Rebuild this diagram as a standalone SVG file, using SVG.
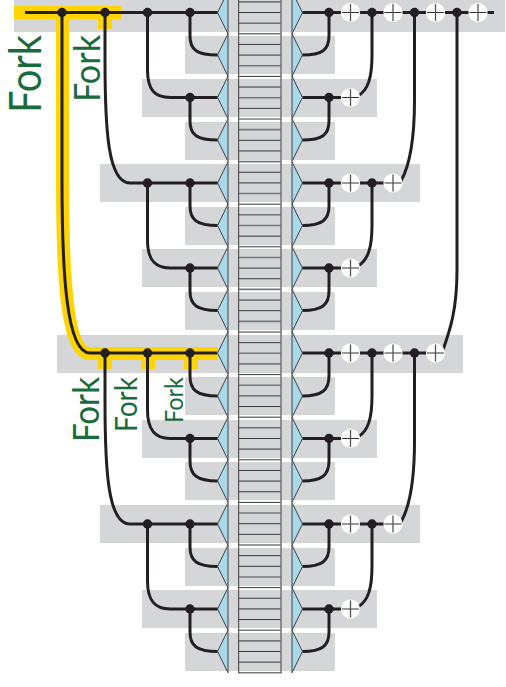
<svg xmlns="http://www.w3.org/2000/svg" width="506" height="687" viewBox="0 0 506 687">
<style>
.b{fill:#d5d6d8}
.y{fill:none;stroke:#ffd400;stroke-width:13}
.w{fill:none;stroke:#231f20;stroke-width:3}
.d{fill:#231f20}
.t{fill:#a9d8e8;stroke:#3f444a;stroke-width:1}
.r{stroke:#3a3a3a;stroke-width:1;fill:none}
.g{stroke:#77787b;stroke-width:1.6;fill:none}
.p{fill:#fff}
.x{stroke:#333;stroke-width:1;fill:none}
.f{font-family:"Lato","Open Sans",sans-serif;fill:#1a6b3c}
</style>
<defs>
<circle id="dot" class="d" r="4.7"/>
<g id="plus"><circle class="p" r="9.6"/><path class="x" d="M-8.500 0H8.500"/><path d="M0-8.500V8.500" fill="none" stroke="#555" stroke-width="1.300"/></g>
<polygon id="tl" class="t" points="228,-21.3 217.5,0 228,21.3"/>
<polygon id="tr" class="t" points="292,-21.3 302.5,0 292,21.3"/>
</defs>
<g id="bands">
<rect class="b" x="14" y="0" width="491" height="32"/>
<rect class="b" x="185" y="36" width="150" height="38"/>
<rect class="b" x="142" y="79" width="235" height="38"/>
<rect class="b" x="185" y="122" width="150" height="38"/>
<rect class="b" x="100" y="164" width="320" height="38"/>
<rect class="b" x="185" y="207" width="150" height="38"/>
<rect class="b" x="142" y="249" width="235" height="38"/>
<rect class="b" x="185" y="292" width="150" height="38"/>
<rect class="b" x="57" y="335" width="406" height="38"/>
<rect class="b" x="185" y="377" width="150" height="38"/>
<rect class="b" x="142" y="420" width="235" height="38"/>
<rect class="b" x="185" y="462" width="150" height="38"/>
<rect class="b" x="100" y="505" width="320" height="38"/>
<rect class="b" x="185" y="548" width="150" height="38"/>
<rect class="b" x="142" y="590" width="235" height="38"/>
<rect class="b" x="185" y="633" width="150" height="38"/>
</g>
<g id="ladder">
<path class="r" d="M239 12.500H281M239 23.150H281M239 44.450H281M239 55.100H281M239 76.400H281M239 87.050H281M239 108.350H281M239 119H281M239 140.300H281M239 150.950H281M239 172.250H281M239 182.900H281M239 204.200H281M239 214.850H281M239 236.150H281M239 246.800H281M239 268.100H281M239 278.750H281M239 300.050H281M239 310.700H281M239 332H281M239 342.650H281M239 363.950H281M239 374.600H281M239 395.900H281M239 406.550H281M239 427.850H281M239 438.500H281M239 459.800H281M239 470.450H281M239 491.750H281M239 502.400H281M239 523.700H281M239 534.350H281M239 555.650H281M239 566.300H281M239 587.600H281M239 598.250H281M239 619.550H281M239 630.200H281M239 651.500H281M239 662.150H281"/>
<path class="g" d="M239 1.850H281M239 33.800H281M239 65.750H281M239 97.700H281M239 129.650H281M239 161.600H281M239 193.550H281M239 225.500H281M239 257.450H281M239 289.400H281M239 321.350H281M239 353.300H281M239 385.250H281M239 417.200H281M239 449.150H281M239 481.100H281M239 513.050H281M239 545H281M239 576.950H281M239 608.900H281M239 640.850H281M238.200 672.800H281.800"/>
<path class="r" d="M238.700 0V673"/>
<path class="g" d="M281 0V673"/>
</g>
<g id="row-shapes">
<use href="#tl" y="12.5"/><use href="#tl" y="55"/><use href="#tl" y="97.5"/><use href="#tl" y="140"/><use href="#tl" y="183"/><use href="#tl" y="225.5"/><use href="#tl" y="268"/><use href="#tl" y="310.5"/><use href="#tl" y="353"/><use href="#tl" y="396"/><use href="#tl" y="438.5"/><use href="#tl" y="481"/><use href="#tl" y="524"/><use href="#tl" y="566.5"/><use href="#tl" y="609"/><use href="#tl" y="651.5"/>
<use href="#tr" y="12.5"/><use href="#tr" y="55"/><use href="#tr" y="97.5"/><use href="#tr" y="140"/><use href="#tr" y="183"/><use href="#tr" y="225.5"/><use href="#tr" y="268"/><use href="#tr" y="310.5"/><use href="#tr" y="353"/><use href="#tr" y="396"/><use href="#tr" y="438.5"/><use href="#tr" y="481"/><use href="#tr" y="524"/><use href="#tr" y="566.5"/><use href="#tr" y="609"/><use href="#tr" y="651.5"/>
</g>
<g id="highlight">
<path class="y" d="M14 12.500H121M62.500 12.500V180C62.500 270 66 353.500 90 353.500H218"/>
<path d="M98 12H112V29H98ZM98 353H112V369H98ZM141 353H155V369H141ZM184 353H198V369H184Z" fill="#ffd400"/>
</g>
<g id="connectors">
<path class="w" d="M25 12.500H217.500M302.500 12.500H494"/>
<path class="w" d="M62 12.500V180C62 270 66 353 90 353H217.500"/>
<path class="w" d="M105 12.500V60C105 130 108 183 130 183H217.500"/>
<path class="w" d="M147.500 12.500V70C147.500 90 155 97.500 170 97.500H217.500"/>
<path class="w" d="M190 12.500V36C190 50 197 55 217.500 55"/>
<path class="w" d="M190 97.500V121C190 135 197 140 217.500 140"/>
<path class="w" d="M147.500 183V240C147.500 260 155 268 170 268H217.500"/>
<path class="w" d="M190 183V206C190 220 197 225.500 217.500 225.500"/>
<path class="w" d="M190 268V291C190 305 197 310.500 217.500 310.500"/>
<path class="w" d="M105 353V401C105 471 108 524 130 524H217.500"/>
<path class="w" d="M147.500 353V410C147.500 430 155 438.500 170 438.500H217.500"/>
<path class="w" d="M190 353V376C190 390 197 396 217.500 396"/>
<path class="w" d="M190 438.500V461C190 475 197 481 217.500 481"/>
<path class="w" d="M147.500 524V581C147.500 601 155 609 170 609H217.500"/>
<path class="w" d="M190 524V547C190 561 197 566.500 217.500 566.500"/>
<path class="w" d="M190 609V632C190 646 197 651.500 217.500 651.500"/>
<path class="w" d="M302.500 97.500H350M302.500 183H393M302.500 268H350M302.500 353H436M302.500 438.500H350M302.500 524H393M302.500 609H350"/>
<path class="w" d="M329 12.500V36C329 50 322 55 302.500 55"/>
<path class="w" d="M329 97.500V121C329 135 322 140 302.500 140"/>
<path class="w" d="M329 183V206C329 220 322 225.500 302.500 225.500"/>
<path class="w" d="M329 268V291C329 305 322 310.500 302.500 310.500"/>
<path class="w" d="M329 353V376C329 390 322 396 302.500 396"/>
<path class="w" d="M329 438.500V461C329 475 322 481 302.500 481"/>
<path class="w" d="M329 524V547C329 561 322 566.500 302.500 566.500"/>
<path class="w" d="M329 609V632C329 646 322 651.500 302.500 651.500"/>
<path class="w" d="M372 12.500V55C372 78 368 90 358 96"/>
<path class="w" d="M372 183V225C372 248 368 260 358 266"/>
<path class="w" d="M372 353V396C372 419 368 431 358 437"/>
<path class="w" d="M372 524V566C372 589 368 601 358 607"/>
<path class="w" d="M414.500 12.500V100C414.500 140 410 165 401 181"/>
<path class="w" d="M414.500 353V441C414.500 481 410 506 401 522"/>
<path class="w" d="M457 12.500V270C457 310 450 330 443 350"/>
</g>
<g id="junctions">
<use href="#dot" x="62" y="12.500"/><use href="#dot" x="105" y="12.500"/><use href="#dot" x="147.500" y="12.500"/><use href="#dot" x="190" y="12.500"/>
<use href="#dot" x="190" y="97.500"/><use href="#dot" x="147.500" y="183"/><use href="#dot" x="190" y="183"/><use href="#dot" x="190" y="268"/>
<use href="#dot" x="105" y="353"/><use href="#dot" x="147.500" y="353"/><use href="#dot" x="190" y="353"/>
<use href="#dot" x="190" y="438.500"/><use href="#dot" x="147.500" y="524"/><use href="#dot" x="190" y="524"/><use href="#dot" x="190" y="609"/>
<use href="#dot" x="329" y="12.500"/><use href="#dot" x="372" y="12.500"/><use href="#dot" x="414.500" y="12.500"/><use href="#dot" x="457" y="12.500"/>
<use href="#dot" x="329" y="97.500"/><use href="#dot" x="329" y="183"/><use href="#dot" x="372" y="183"/><use href="#dot" x="329" y="268"/>
<use href="#dot" x="329" y="353"/><use href="#dot" x="372" y="353"/><use href="#dot" x="414.500" y="353"/>
<use href="#dot" x="329" y="438.500"/><use href="#dot" x="329" y="524"/><use href="#dot" x="372" y="524"/><use href="#dot" x="329" y="609"/>
</g>
<g id="adders">
<use href="#plus" x="350.500" y="12.500"/><use href="#plus" x="393" y="12.500"/><use href="#plus" x="435.500" y="12.500"/><use href="#plus" x="478" y="12.500"/>
<use href="#plus" x="350.500" y="97.500"/><use href="#plus" x="350.500" y="183"/><use href="#plus" x="393" y="183"/><use href="#plus" x="350.500" y="268"/>
<use href="#plus" x="350.500" y="353"/><use href="#plus" x="393" y="353"/><use href="#plus" x="435.500" y="353"/>
<use href="#plus" x="350.500" y="438.500"/><use href="#plus" x="350.500" y="524"/><use href="#plus" x="393" y="524"/><use href="#plus" x="350.500" y="609"/>
</g>
<g id="labels">
<text class="f" font-size="44" textLength="78" lengthAdjust="spacingAndGlyphs" transform="translate(41 113) rotate(-90)">Fork</text>
<text class="f" font-size="37" textLength="67" lengthAdjust="spacingAndGlyphs" transform="translate(100 102) rotate(-90)">Fork</text>
<text class="f" font-size="37" textLength="65" lengthAdjust="spacingAndGlyphs" transform="translate(99 442) rotate(-90)">Fork</text>
<text class="f" font-size="30" textLength="55" lengthAdjust="spacingAndGlyphs" transform="translate(137 432) rotate(-90)">Fork</text>
<text class="f" font-size="25" textLength="46" lengthAdjust="spacingAndGlyphs" transform="translate(183 423) rotate(-90)">Fork</text>
</g>
</svg>
